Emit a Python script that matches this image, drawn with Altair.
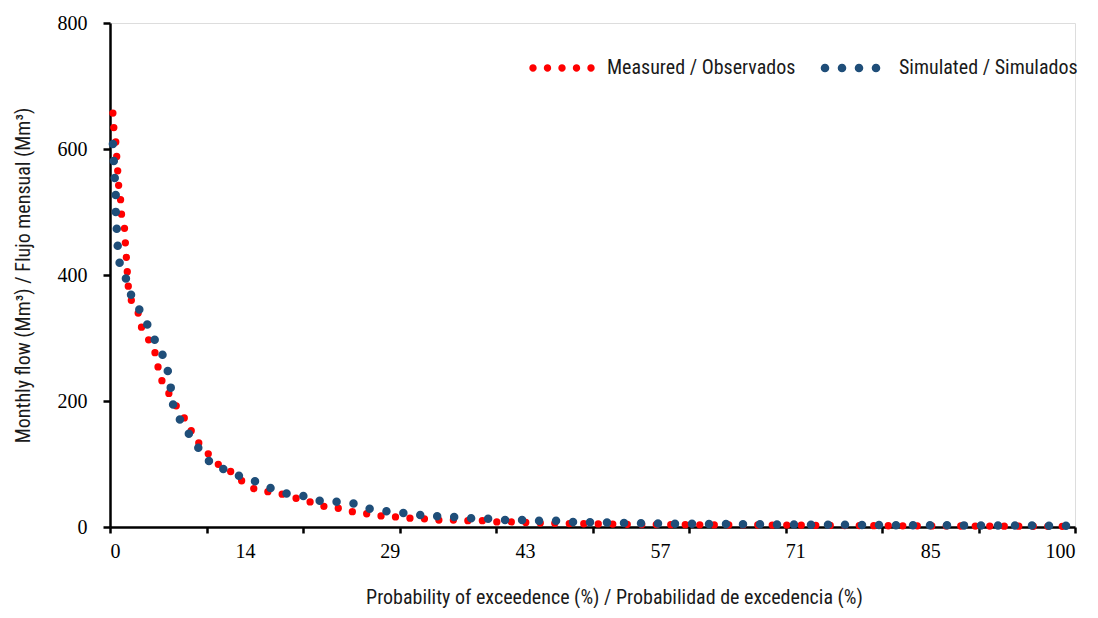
import altair as alt
import pandas as pd

series_names = ["Measured / Observados", "Simulated / Simulados"]

measured_x = [0.3, 0.4, 0.6, 0.7, 0.8, 0.9, 1.1, 1.2, 1.5, 1.6, 1.7, 1.8, 1.9, 2.2, 2.9, 3.2,
              3.9, 4.6, 4.9, 5.2, 5.8, 6.5, 7.3, 8.1, 8.7, 9.5, 10.5, 11.5, 12.8, 13.8, 15.0,
              16.4, 17.9, 19.2, 20.7, 22.1, 23.6, 25.2, 26.6, 28.1, 29.6, 31.1, 32.6, 34.1,
              35.7, 37.1, 38.7, 40.1, 41.7, 45.0, 50.0, 55.0, 60.0, 70.0, 80.0, 90.0, 100.0]
measured_y = [657, 633, 611, 587, 565, 541, 519, 495, 475, 449, 427, 403, 381, 360, 341, 319,
              300, 281, 260, 237, 221, 200, 183, 163, 144, 127, 111, 95, 86, 71, 60,
              56, 52, 46, 40, 33, 30, 24, 21, 17.5, 16, 14, 13, 11,
              11, 10, 10, 8, 8, 6, 5, 4, 3.5, 3, 2, 1.5, 1]

simulated_x = [0.3, 0.4, 0.5, 0.6, 0.6, 0.7, 0.8, 1.0, 1.6, 2.1, 2.9, 3.7, 4.4, 5.2, 5.8, 6.2,
               6.4, 6.7, 7.7, 8.5, 9.5, 10.6, 12.3, 13.7, 15.4, 16.9, 18.5, 20.2, 21.9, 23.6,
               25.4, 26.9, 28.7, 30.5, 32.2, 33.9, 35.7, 37.4, 39.2, 40.9, 42.6, 44.4, 46.0,
               47.9, 55.0, 60.0, 70.0, 80.0, 90.0, 100.0]
simulated_y = [608, 579, 552, 525, 500, 473, 446, 419, 397, 371, 349, 327, 303, 283, 259, 235,
               206, 181, 162, 138, 119, 98, 89, 79, 71, 60, 52, 49, 41, 40,
               37, 29, 25, 22, 19, 17, 16, 14, 13, 11, 11, 10, 10,
               8, 6, 5, 4, 3, 2.5, 2]

x_tick_values = [0, 10, 20, 30, 40, 50, 60, 70, 80, 90, 100]
x_label_values = [0, 14, 29, 43, 57, 71, 85, 100]
y_tick_values = [0, 200, 400, 600, 800]

rows = []
for i, (xv, yv) in enumerate(zip(measured_x, measured_y)):
    rows.append({"series": series_names[0], "prob": xv, "flow": yv, "idx": i})
for i, (xv, yv) in enumerate(zip(simulated_x, simulated_y)):
    rows.append({"series": series_names[1], "prob": xv, "flow": yv, "idx": i})
df = pd.DataFrame(rows)

RED = "#FF0000"
BLUE = "#1F4E79"
serif = "Liberation Serif"
narrow = "Liberation Sans Narrow, Roboto Condensed, DejaVu Sans Condensed, sans-serif"

all_x_vals = sorted(set(x_tick_values + x_label_values))
label_list = ",".join(str(v) for v in x_label_values)
tick_list = ",".join(str(v) for v in x_tick_values)


# Legend glyphs: rows of round dots (unit coordinates, scaled by the symbol size)
def dots_path(centers_px, r_px, half):
    parts = []
    for c in centers_px:
        x0 = (c - r_px) / half
        x1 = (c + r_px) / half
        r = r_px / half
        parts.append(f"M{x0:.4f},0A{r:.4f},{r:.4f} 0 1 0 {x1:.4f},0A{r:.4f},{r:.4f} 0 1 0 {x0:.4f},0Z")
    return "".join(parts)


SYM = 66.0
HALF = SYM / 2
red_glyph = dots_path([-29, -14.5, 0, 14.5, 29], 3.7, HALF)
blue_glyph = dots_path([-29, -12, 5, 22], 4.3, HALF)

is_measured = alt.datum.series == series_names[0]

lines = alt.Chart(df).mark_line(strokeCap="round", strokeJoin="round").encode(
    x=alt.X(
        "prob:Q",
        scale=alt.Scale(domain=[0, 100], nice=False, zero=False),
        axis=alt.Axis(
            values=all_x_vals,
            labelExpr=f"indexof([{label_list}], datum.value) >= 0 ? datum.label : ''",
            tickOpacity={"condition": {"test": f"indexof([{tick_list}], datum.value) >= 0", "value": 1}, "value": 0},
            labelOverlap=False,
            grid=False,
            title="Probability of exceedence (%) / Probabilidad de excedencia (%)",
            titleFont=narrow,
            titleFontSize=20,
            titleFontWeight="normal",
            titleColor="#1a1a1a",
            titlePadding=26,
            titleX=504,
            labelFont=serif,
            labelFontSize=20,
            labelColor="black",
            labelPadding=8,
            domainColor="black",
            domainWidth=2.5,
            tickColor="black",
            tickWidth=2.5,
            tickSize=6,
        ),
    ),
    y=alt.Y(
        "flow:Q",
        scale=alt.Scale(domain=[0, 800], nice=False),
        axis=alt.Axis(
            values=y_tick_values,
            grid=False,
            title="Monthly flow (Mm³) / Flujo mensual (Mm³)",
            titleFont=narrow,
            titleFontSize=20,
            titleFontWeight="normal",
            titleColor="#1a1a1a",
            titlePadding=24,
            labelFont=serif,
            labelFontSize=20,
            labelColor="black",
            labelPadding=16,
            domainColor="black",
            domainWidth=2.5,
            tickColor="black",
            tickWidth=2.5,
            tickSize=7,
        ),
    ),
    detail="series:N",
    color=alt.condition(is_measured, alt.value(RED), alt.value(BLUE)),
    strokeWidth=alt.condition(is_measured, alt.value(7.3), alt.value(8.5)),
    strokeDash=alt.condition(is_measured, alt.value([0, 14.5]), alt.value([0, 17])),
    order="idx:Q",
)

legend = alt.Legend(
    title=None,
    orient="none",
    legendX=419,
    legendY=12,
    direction="horizontal",
    symbolSize=SYM * SYM,
    symbolStrokeWidth=0,
    symbolOpacity=1,
    labelFont=narrow,
    labelFontSize=20,
    labelColor="#1a1a1a",
    labelLimit=500,
    labelOffset=12,
    columnPadding=24,
    padding=0,
)

legend_layer = alt.Chart(df).transform_filter("false").mark_point(filled=True, opacity=0).encode(
    x="prob:Q",
    y="flow:Q",
    color=alt.Color("series:N", scale=alt.Scale(domain=series_names, range=[RED, BLUE]), legend=legend),
    shape=alt.Shape("series:N", scale=alt.Scale(domain=series_names, range=[red_glyph, blue_glyph]), legend=legend),
)

chart = alt.layer(lines, legend_layer).properties(
    width=965,
    height=504,
    autosize=alt.AutoSizeParams(type="none"),
    padding={"left": 102, "top": 15, "right": 15, "bottom": 81},
).configure_view(stroke=None).configure(background="white")

chart.save("out.html", embed_options={"renderer": "svg", "actions": False})
